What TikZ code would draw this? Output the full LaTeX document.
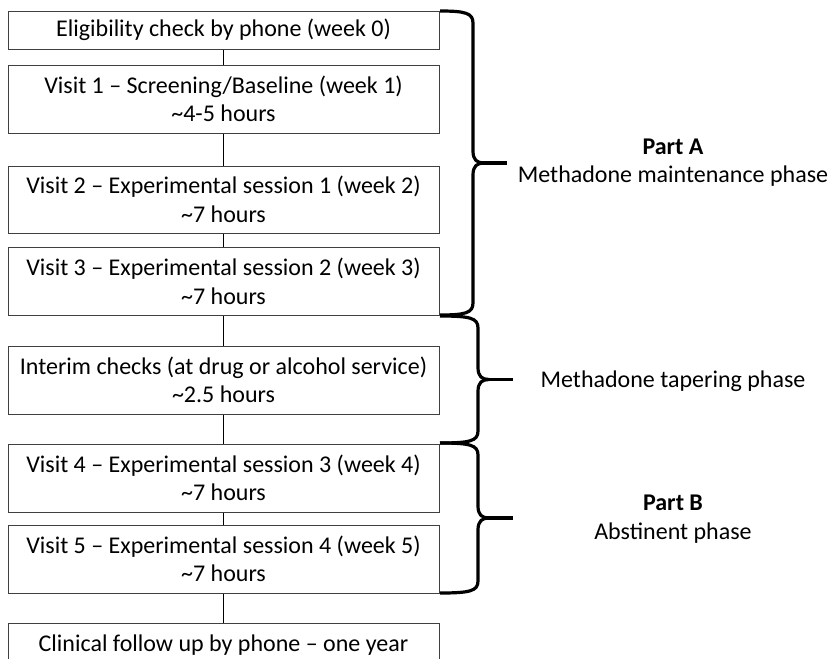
\documentclass[tikz,border=0pt]{standalone}
\usepackage{fontspec}
\setmainfont{Carlito}
\begin{document}
\begin{tikzpicture}[x=1pt,y=-1pt,
  stage/.style={draw=black!75,line width=1pt,minimum width=431pt,inner sep=0pt,align=center,font=\fontsize{24}{28.5}\selectfont},
  link/.style={line width=1.8pt,black},
  phase/.style={line width=3.2pt,black,line join=round,line cap=butt},
  plabel/.style={align=center,font=\fontsize{24}{28.5}\selectfont}]
\useasboundingbox (0,0) rectangle (831,659);
\node[stage,minimum height=38pt] (b1) at (223.5,30) {Eligibility check by phone (week 0)};
\node[stage,minimum height=68pt] (b2) at (223.5,99) {Visit 1 -- Screening/Baseline (week 1)\\\textasciitilde4-5 hours};
\node[stage,minimum height=67pt] (b3) at (223.5,199.5) {Visit 2 -- Experimental session 1 (week 2)\\\textasciitilde7 hours};
\node[stage,minimum height=68pt] (b4) at (223.5,281.5) {Visit 3 -- Experimental session 2 (week 3)\\\textasciitilde7 hours};
\node[stage,minimum height=68pt] (b5) at (223.5,380) {Interim checks (at drug or alcohol service)\\\textasciitilde2.5 hours};
\node[stage,minimum height=68pt] (b6) at (223.5,478) {Visit 4 -- Experimental session 3 (week 4)\\\textasciitilde7 hours};
\node[stage,minimum height=68pt] (b7) at (223.5,559) {Visit 5 -- Experimental session 4 (week 5)\\\textasciitilde7 hours};
\node[stage,minimum height=68pt,anchor=north] (b8) at (223.5,623) {Clinical follow up by phone -- one year\\\phantom{x}};
\draw[link] (b1) -- (b2);
\draw[link] (b2) -- (b3);
\draw[link] (b3) -- (b4);
\draw[link] (b4) -- (b5);
\draw[link] (b5) -- (b6);
\draw[link] (b6) -- (b7);
\draw[link] (b7) -- (b8);
\newcommand{\phbrace}[4]{%
  \pgfmathsetmacro\ym{(#1+#2)/2}%
  \draw[phase] (440,#1) .. controls (#3-8,#1) and (#3,#1+2) .. (#3,#1+12) -- (#3,\ym-12)
     .. controls (#3,\ym-3) and (#3+4,\ym) .. (#3+11,\ym)
     .. controls (#3+4,\ym) and (#3,\ym+3) .. (#3,\ym+12) -- (#3,#2-12)
     .. controls (#3,#2-2) and (#3-8,#2) .. (440,#2);
  \draw[phase] (#3+10,\ym) -- (#4,\ym);}
\phbrace{11}{315}{473}{507}
\phbrace{316}{443}{478}{513}
\phbrace{443}{593}{478}{513}
\node[plabel] (pa) at (673,162.5) {\textbf{Part A}\\Methadone maintenance phase};
\node[plabel] (pt) at (673,381) {Methadone tapering phase};
\node[plabel] (pb) at (673,519) {\textbf{Part B}\\Abstinent phase};
\end{tikzpicture}
\end{document}
